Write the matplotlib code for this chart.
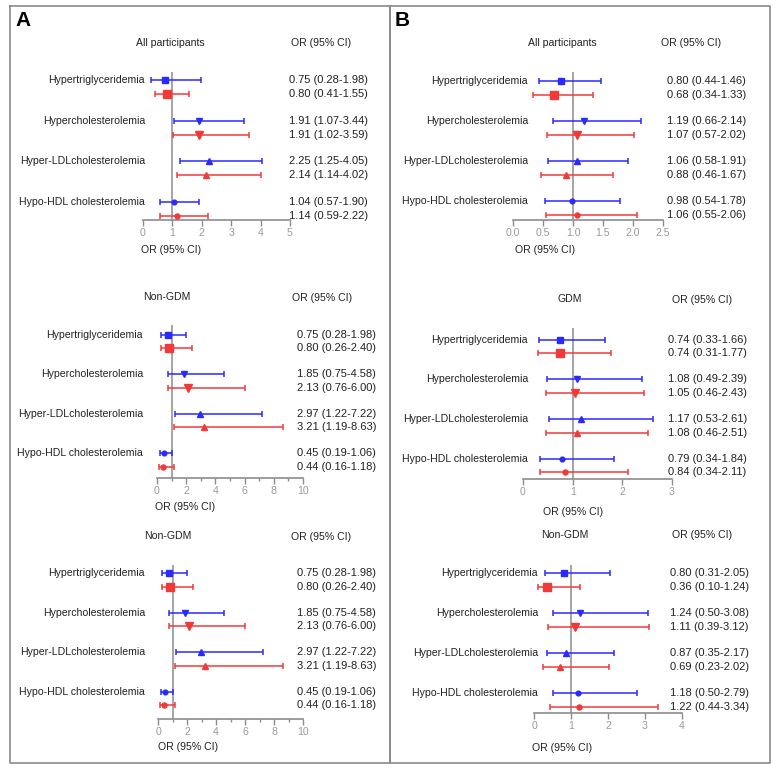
import matplotlib
matplotlib.use('Agg')
import matplotlib.pyplot as plt
from matplotlib import transforms
from matplotlib.lines import Line2D

plt.rcParams['font.family'] = ['Liberation Sans', 'DejaVu Sans']

W, H = 777, 770

# Data
conditions = ['Hypertriglyceridemia', 'Hypercholesterolemia',
              'Hyper-LDLcholesterolemia', 'Hypo-HDL cholesterolemia']
markers = ['s', 'v', '^', 'o']

# panel A - all participants
a_all_blue = [(0.75, 0.28, 1.98), (1.91, 1.07, 3.44), (2.25, 1.25, 4.05), (1.04, 0.57, 1.90)]
a_all_red = [(0.80, 0.41, 1.55), (1.91, 1.02, 3.59), (2.14, 1.14, 4.02), (1.14, 0.59, 2.22)]
# panel A - non-GDM (shown twice)
a_ngdm_blue = [(0.75, 0.28, 1.98), (1.85, 0.75, 4.58), (2.97, 1.22, 7.22), (0.45, 0.19, 1.06)]
a_ngdm_red = [(0.80, 0.26, 2.40), (2.13, 0.76, 6.00), (3.21, 1.19, 8.63), (0.44, 0.16, 1.18)]
# panel B
b_all_blue = [(0.80, 0.44, 1.46), (1.19, 0.66, 2.14), (1.06, 0.58, 1.91), (0.98, 0.54, 1.78)]
b_all_red = [(0.68, 0.34, 1.33), (1.07, 0.57, 2.02), (0.88, 0.46, 1.67), (1.06, 0.55, 2.06)]
b_gdm_blue = [(0.74, 0.33, 1.66), (1.08, 0.49, 2.39), (1.17, 0.53, 2.61), (0.79, 0.34, 1.84)]
b_gdm_red = [(0.74, 0.31, 1.77), (1.05, 0.46, 2.43), (1.08, 0.46, 2.51), (0.84, 0.34, 2.11)]
b_ngdm_blue = [(0.80, 0.31, 2.05), (1.24, 0.50, 3.08), (0.87, 0.35, 2.17), (1.18, 0.50, 2.79)]
b_ngdm_red = [(0.36, 0.10, 1.24), (1.11, 0.39, 3.12), (0.69, 0.23, 2.02), (1.22, 0.44, 3.34)]

BLUE = '#2a2aff'
RED = '#f03a3a'
GRAY = '#8c8c8c'
TXT = '#222222'

# marker sizes per condition (blue, red)
blue_ms = [4.2, 4.2, 4.2, 3.4]
red_ms = [5.2, 5.4, 4.6, 3.6]

# layout per sub-plot (pixels)
panels = [
    dict(blue=a_all_blue, red=a_all_red, x0=143, x1=290, xmax=5, ay=220, ty=72, c0=87, s=40.7,
         lab_x=145, val_x=289, title='All participants', tpos=(170, 43), hpos=(321, 43), xlpos=(171, 250),
         ticks=[0, 1, 2, 3, 4, 5], minor=None),
    dict(blue=a_ngdm_blue, red=a_ngdm_red, x0=157, x1=303, xmax=10, ay=478, ty=325, c0=341.5, s=39.5,
         lab_x=143, val_x=297, title='Non-GDM', tpos=(167, 297), hpos=(322, 298), xlpos=(185, 507),
         ticks=[0, 2, 4, 6, 8, 10], minor=[1, 3, 5, 7, 9]),
    dict(blue=a_ngdm_blue, red=a_ngdm_red, x0=158, x1=303, xmax=10, ay=719, ty=565, c0=580, s=39.5,
         lab_x=145, val_x=297, title='Non-GDM', tpos=(168, 536), hpos=(321, 537), xlpos=(188, 747),
         ticks=[0, 2, 4, 6, 8, 10], minor=[1, 3, 5, 7, 9]),
    dict(blue=b_all_blue, red=b_all_red, x0=513, x1=663, xmax=2.5, ay=220, ty=72, c0=88, s=40,
         lab_x=528, val_x=667, title='All participants', tpos=(562, 43), hpos=(691, 43), xlpos=(545, 250),
         ticks=[0.0, 0.5, 1.0, 1.5, 2.0, 2.5], minor=None),
    dict(blue=b_gdm_blue, red=b_gdm_red, x0=523, x1=672, xmax=3, ay=479, ty=328, c0=346.5, s=39.7,
         lab_x=528, val_x=668, title='GDM', tpos=(570, 299), hpos=(702, 300), xlpos=(573, 512),
         ticks=[0, 1, 2, 3], minor=None),
    dict(blue=b_ngdm_blue, red=b_ngdm_red, x0=534, x1=682, xmax=4, ay=713, ty=565, c0=580, s=40,
         lab_x=538, val_x=670, title='Non-GDM', tpos=(565, 535), hpos=(702, 535), xlpos=(562, 748),
         ticks=[0, 1, 2, 3, 4], minor=None),
]


def fx(x):
    return x / W


def fy(y):
    return 1 - y / H


fig = plt.figure(figsize=(W / 100, H / 100), dpi=100)

# frames around panels
for (l, r) in [(10, 390), (390, 770)]:
    xs = [fx(l), fx(r), fx(r), fx(l), fx(l)]
    ys = [fy(6), fy(6), fy(763), fy(763), fy(6)]
    fig.add_artist(Line2D(xs, ys, color='#8a8a8a', lw=1.2, transform=fig.transFigure))

fig.text(fx(15), fy(21), 'A', fontsize=15, fontweight='bold', va='center', ha='left')
fig.text(fx(395), fy(21), 'B', fontsize=15, fontweight='bold', va='center', ha='left')

d = 0.17
fs = 7.6
for p in panels:
    ax = fig.add_axes([fx(p['x0']), fy(p['ay']), (p['x1'] - p['x0']) / W, (p['ay'] - p['ty']) / H])
    ax.set_xlim(0, p['xmax'])
    ax.set_ylim((p['ay'] - p['c0']) / p['s'], (p['ty'] - p['c0']) / p['s'])
    ax.patch.set_alpha(0)
    for side in ['top', 'right', 'left']:
        ax.spines[side].set_visible(False)
    ax.spines['bottom'].set_color(GRAY)
    ax.spines['bottom'].set_linewidth(1.2)
    ax.set_yticks([])
    ax.set_xticks(p['ticks'])
    if p['minor']:
        ax.set_xticks(p['minor'], minor=True)
    ax.tick_params(axis='x', colors=GRAY, labelcolor='#9a9a9a', labelsize=fs, length=4, width=1, pad=2)
    ax.tick_params(axis='x', which='minor', colors=GRAY, length=2.5, width=1)
    ax.axvline(1, color=GRAY, lw=1.1, zorder=1)

    tr = transforms.blended_transform_factory(fig.transFigure, ax.transData)
    for i, cond in enumerate(conditions):
        for vals, col, off, ms in [(p['blue'][i], BLUE, -d, blue_ms[i]), (p['red'][i], RED, d, red_ms[i])]:
            o, lo, hi = vals
            ax.errorbar([o], [i + off], xerr=[[o - lo], [hi - o]], fmt=markers[i], color=col,
                        ms=ms, elinewidth=1.1, capsize=2, capthick=1.1, zorder=3)
            ax.text(fx(p['val_x']), i + off, f'{o:.2f} ({lo:.2f}-{hi:.2f})', transform=tr,
                    fontsize=8, color=TXT, ha='left', va='center')
        ax.text(fx(p['lab_x']), i - d, cond, transform=tr, fontsize=fs, color=TXT,
                ha='right', va='center')

    fig.text(fx(p['tpos'][0]), fy(p['tpos'][1]), p['title'], fontsize=fs, color=TXT, ha='center', va='center')
    fig.text(fx(p['hpos'][0]), fy(p['hpos'][1]), 'OR (95% CI)', fontsize=fs, color=TXT, ha='center', va='center')
    fig.text(fx(p['xlpos'][0]), fy(p['xlpos'][1]), 'OR (95% CI)', fontsize=fs, color=TXT, ha='center', va='center')

fig.savefig('out.png', dpi=100)
